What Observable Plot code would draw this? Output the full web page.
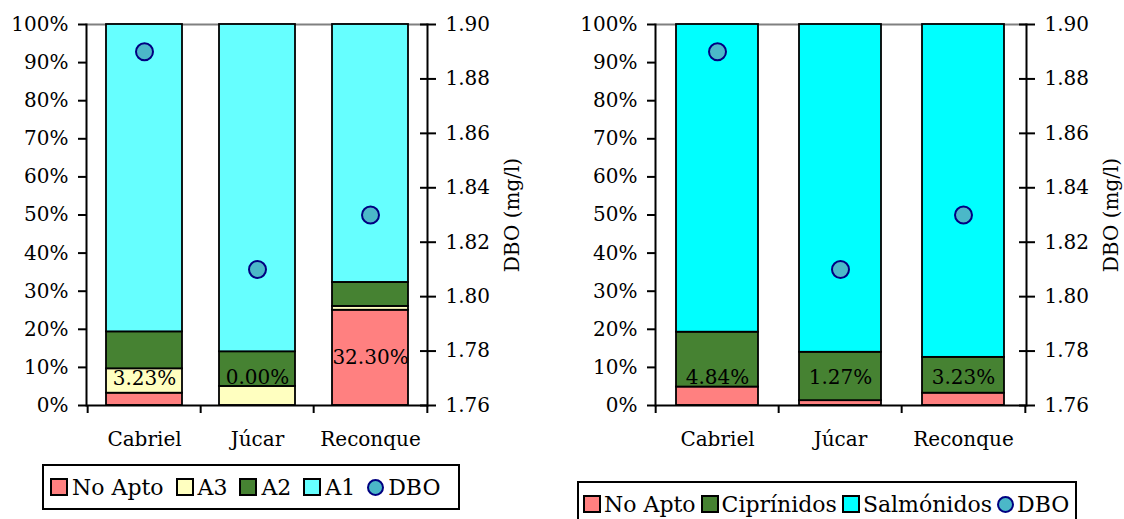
<!DOCTYPE html>
<html><head><meta charset="utf-8">
<script src="https://cdn.jsdelivr.net/npm/d3@7"></script>
<script src="https://cdn.jsdelivr.net/npm/@observablehq/plot@0.6"></script>
<style>
body{margin:0;background:#fff;width:1124px;height:519px;overflow:hidden;position:relative;font-family:"DejaVu Serif",serif;color:#000}
#c1{position:absolute;left:0;top:0}
#c2{position:absolute;left:560px;top:0}
.legend{position:absolute;border:2px solid #000;display:flex;align-items:center;font-size:22px;box-sizing:border-box;background:#fff;padding:0 6px;white-space:nowrap}
.sw{display:inline-block;width:14px;height:14px;border:2px solid #000;margin-right:4px;box-sizing:content-box}
.dot{display:inline-block;width:13px;height:13px;border:2.5px solid #000080;border-radius:50%;background:#4bb8c8;margin-right:4px}
.item{display:flex;align-items:center;margin-right:12px}
#l2 .item{margin-right:5px}
#l2 .sw,#l2 .dot{margin-right:3px}
.item:last-child{margin-right:0}
</style></head><body>
<div id="c1"></div><div id="c2"></div>
<div class="legend" id="l1" style="left:42px;top:464px;width:418px;height:46px"></div>
<div class="legend" id="l2" style="left:577px;top:481px;width:500px;height:46px;padding:0 4px"></div>
<script>
const rivers = ["Cabriel", "Júcar", "Reconque"];

// Left chart
const leftSeries = ["No Apto", "A3", "A2", "A1"];
const leftNoApto = [3.23, 0, 25.0];
const leftA3 = [6.4, 5.0, 1.0];
const leftA2 = [9.7, 9.1, 6.3];
const leftA1 = [80.67, 85.9, 67.7];
const leftColors = ["#ff8080", "#ffffc0", "#468232", "#66ffff"];
const leftLabels = ["3.23%", "0.00%", "32.30%"];
const leftLabelPos = [7.1, 7.4, 12.6];

// Right chart
const rightSeries = ["No Apto", "Ciprínidos", "Salmónidos"];
const rightNoApto = [4.84, 1.27, 3.23];
const rightCip = [14.4, 12.7, 9.4];
const rightSal = [80.76, 86.03, 87.37];
const rightColors = ["#ff8080", "#468232", "#00ffff"];
const rightLabels = ["4.84%", "1.27%", "3.23%"];
const rightLabelPos = [7.3, 7.3, 7.3];

// DBO (secondary axis)
const dbo = [1.89, 1.81, 1.83];
const dboTicks = [1.76, 1.78, 1.80, 1.82, 1.84, 1.86, 1.88, 1.90];
const dboDomain = [1.76, 1.90];
const pctTicks = [0, 10, 20, 30, 40, 50, 60, 70, 80, 90, 100];

function chart({width, height, ml, mr, series, cols, colors, labels, labelPos, labelDx}) {
  const rows = [];
  series.forEach((s, i) => rivers.forEach((r, j) => rows.push({river: r, series: s, value: cols[i][j]})));
  const toPct = v => (v - dboDomain[0]) / (dboDomain[1] - dboDomain[0]) * 100;
  const fromPct = p => dboDomain[0] + p / 100 * (dboDomain[1] - dboDomain[0]);
  const step = (width - ml - mr) / rivers.length;
  return Plot.plot({
    width, height, marginLeft: ml, marginRight: mr, marginTop: 24, marginBottom: 55,
    style: {fontFamily: "DejaVu Serif", fontSize: "20px", color: "#000", background: "#fff", overflow: "visible"},
    x: {domain: rivers, paddingInner: 0.33, paddingOuter: 0.165, label: null},
    y: {domain: [0, 100], label: null},
    color: {domain: series, range: colors},
    marks: [
      Plot.ruleY([100], {stroke: "#808080", strokeWidth: 2}),
      Plot.barY(rows, {x: "river", y: "value", fill: "series", stroke: "#000", strokeWidth: 1.8}),
      Plot.ruleY([0], {strokeWidth: 2}),
      Plot.axisY({ticks: pctTicks, tickFormat: d => d + "%", tickSize: 8, tickPadding: 10, label: null, strokeWidth: 2, fontSize: 20}),
      Plot.axisY({anchor: "right", ticks: dboTicks.map(toPct), tickFormat: d => fromPct(d).toFixed(2), tickSize: 16, dx: -8, tickPadding: 10, label: null, strokeWidth: 2, fontSize: 20}),
      Plot.frame({anchor: "left", strokeWidth: 2}),
      Plot.frame({anchor: "right", strokeWidth: 2}),
      Plot.axisX({tickSize: 0, tickPadding: 26, label: null, fontSize: 20}),
      Plot.axisX({tickSize: 8, tickFormat: () => "", dx: -step / 2, label: null, strokeWidth: 2}),
      Plot.axisX({ticks: [rivers[rivers.length - 1]], tickSize: 8, tickFormat: () => "", dx: step / 2, label: null, strokeWidth: 2}),
      Plot.text(rivers, {x: d => d, y: (d, i) => labelPos[i], text: (d, i) => labels[i], fontSize: 20}),
      Plot.dot(rivers, {x: d => d, y: (d, i) => toPct(dbo[i]), r: 8.5, fill: "#4bb8c8", stroke: "#000080", strokeWidth: 2}),
      Plot.text(["DBO (mg/l)"], {frameAnchor: "right", rotate: -90, dx: labelDx, textAnchor: "middle", fontSize: 20})
    ]
  });
}

document.getElementById("c1").append(chart({
  width: 560, height: 460, ml: 86, mr: 133,
  series: leftSeries, cols: [leftNoApto, leftA3, leftA2, leftA1], colors: leftColors,
  labels: leftLabels, labelPos: leftLabelPos, labelDx: 85
}));
document.getElementById("c2").append(chart({
  width: 564, height: 460, ml: 95, mr: 98,
  series: rightSeries, cols: [rightNoApto, rightCip, rightSal], colors: rightColors,
  labels: rightLabels, labelPos: rightLabelPos, labelDx: 85
}));

function legend(id, series, colors) {
  const el = document.getElementById(id);
  series.forEach((s, i) => {
    const it = document.createElement("span"); it.className = "item";
    const sw = document.createElement("span"); sw.className = "sw"; sw.style.background = colors[i];
    it.append(sw, document.createTextNode(s)); el.append(it);
  });
  const it = document.createElement("span"); it.className = "item";
  const d = document.createElement("span"); d.className = "dot";
  it.append(d, document.createTextNode("DBO")); el.append(it);
}
legend("l1", leftSeries, leftColors);
legend("l2", rightSeries, rightColors);
</script>
</body></html>
